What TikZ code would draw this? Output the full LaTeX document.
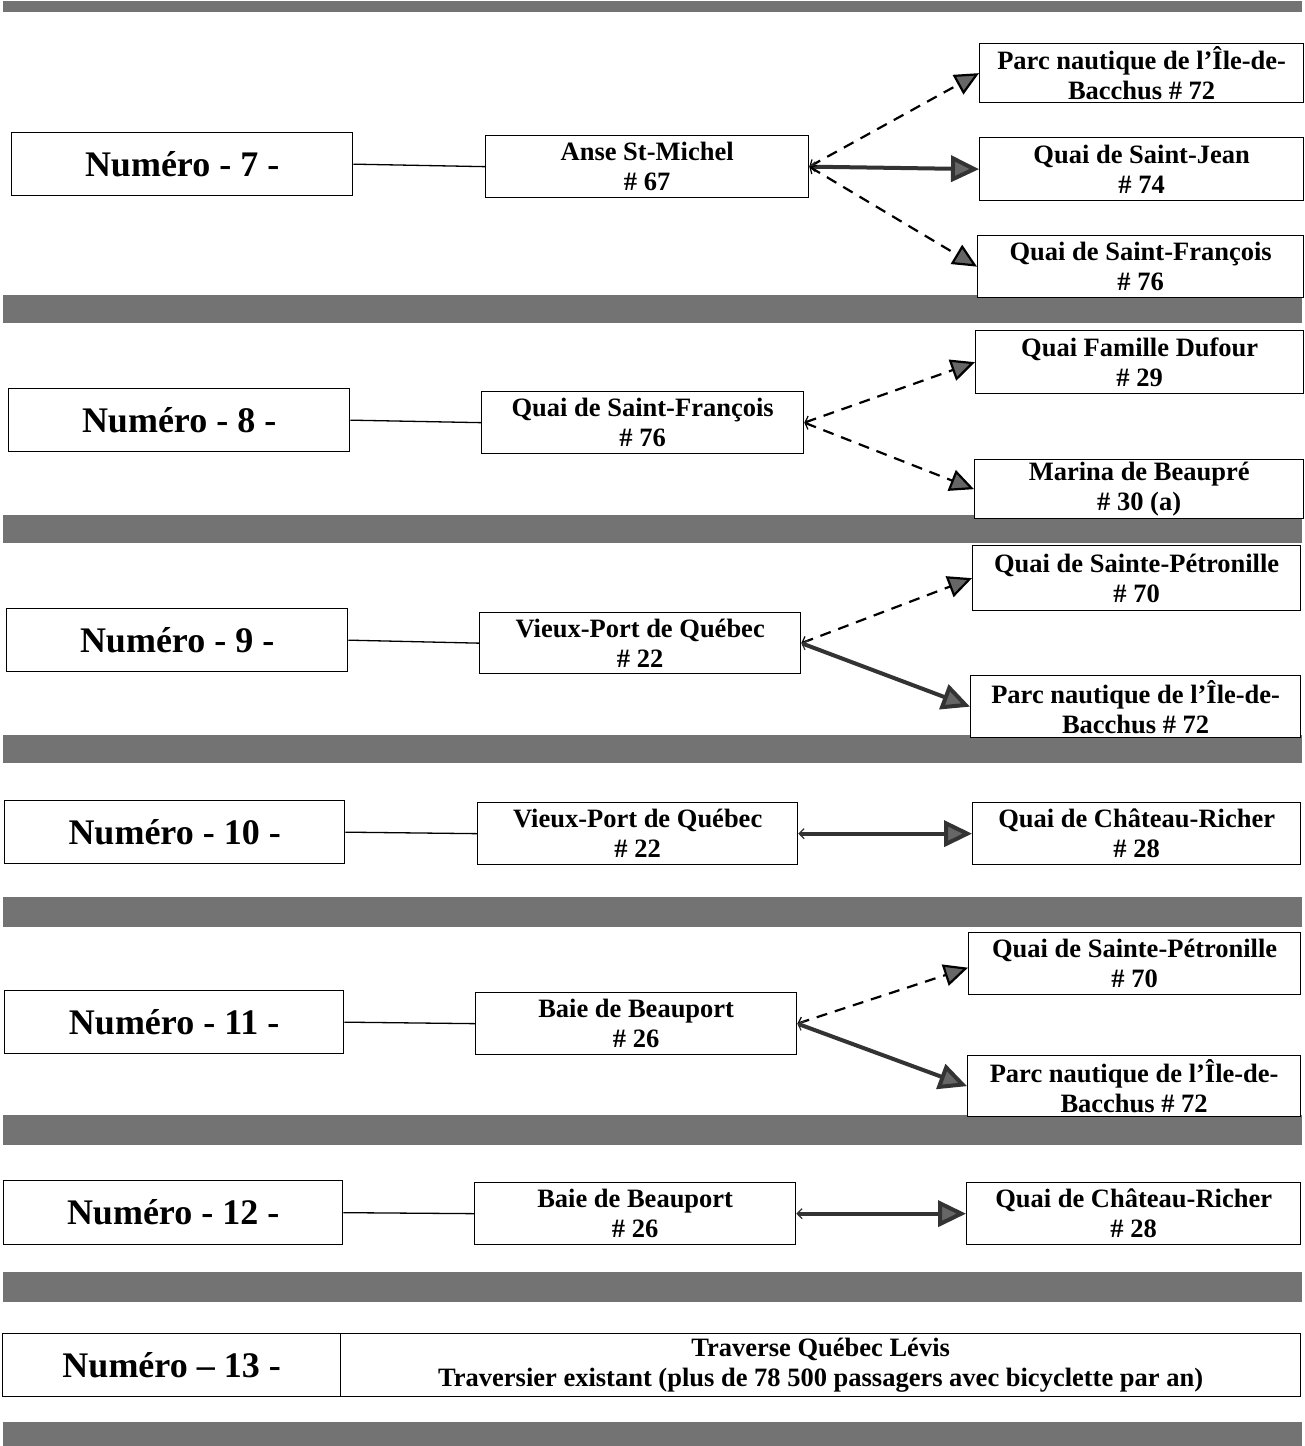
\documentclass[tikz,border=0pt]{standalone}
\usepackage{fontspec}
\setmainfont{Liberation Serif}
\usetikzlibrary{arrows.meta}
\begin{document}
\begin{tikzpicture}[x=1pt,y=-1pt,
  band/.style={fill=black!55,draw=none},
  numbox/.style={draw=black,line width=1.3pt,fill=white,anchor=north west,inner sep=0pt,
    align=center,font=\fontsize{36}{40}\selectfont\bfseries},
  stopbox/.style={draw=black,line width=1.3pt,fill=white,anchor=north west,inner sep=0pt,
    align=center,font=\fontsize{26.5}{30}\selectfont\bfseries},
  link/.style={line width=1.3pt},
  mainroute/.style={line width=4pt,draw=black!80,
    {Straight Barb[length=5pt,width=10pt,line width=1.2pt]}-{Triangle[length=28pt,width=26pt,fill=black!60]}},
  altroute/.style={line width=2.2pt,dash pattern=on 11pt off 8pt,
    {Straight Barb[length=5pt,width=10pt,line width=1.2pt]}-{Triangle[length=24pt,width=22pt,fill=black!60]}},
]
\useasboundingbox (0,0) rectangle (1305,1446);

% separating bands
\foreach \ya/\yb in {1/12,295/323,515/543,735/763,897/927,1115/1145,1272/1302,1422/1446}
  \fill[band] (3,\ya) rectangle (1302,\yb);

% route 7
\node[numbox,minimum width=341,minimum height=63] (n7) at (11,132) {Numéro - 7 -};
\node[stopbox,minimum width=323,minimum height=62] (d7) at (485,135) {Anse St-Michel\\\# 67};
\node[stopbox,minimum width=324,minimum height=59] (a7a) at (979,43) {Parc nautique de l’Île-de-\\Bacchus \# 72};
\node[stopbox,minimum width=324,minimum height=63] (a7b) at (979,137) {Quai de Saint-Jean\\\# 74};
\node[stopbox,minimum width=326,minimum height=62] (a7c) at (977,235) {Quai de Saint-François\\\# 76};
\draw[link] (n7.east) -- (d7.west);
\draw[altroute] (d7.east) -- (a7a.west);
\draw[mainroute] (d7.east) -- (a7b.west);
\draw[altroute] (d7.east) -- (a7c.west);

% route 8
\node[numbox,minimum width=341,minimum height=63] (n8) at (8,388) {Numéro - 8 -};
\node[stopbox,minimum width=322,minimum height=62] (d8) at (481,391) {Quai de Saint-François\\\# 76};
\node[stopbox,minimum width=328,minimum height=63] (a8a) at (975,330) {Quai Famille Dufour\\\# 29};
\node[stopbox,minimum width=329,minimum height=59] (a8b) at (974,459) {Marina de Beaupré\\\# 30 (a)};
\draw[link] (n8.east) -- (d8.west);
\draw[altroute] (d8.east) -- (a8a.west);
\draw[altroute] (d8.east) -- (a8b.west);

% route 9
\node[numbox,minimum width=341,minimum height=63] (n9) at (6,608) {Numéro - 9 -};
\node[stopbox,minimum width=321,minimum height=61] (d9) at (479,612) {Vieux-Port de Québec\\\# 22};
\node[stopbox,minimum width=328,minimum height=65] (a9a) at (972,545) {Quai de Sainte-Pétronille\\\# 70};
\node[stopbox,minimum width=330,minimum height=62] (a9b) at (970,675) {Parc nautique de l’Île-de-\\Bacchus \# 72};
\draw[link] (n9.east) -- (d9.west);
\draw[altroute] (d9.east) -- (a9a.west);
\draw[mainroute] (d9.east) -- (a9b.west);

% route 10
\node[numbox,minimum width=340,minimum height=63] (n10) at (4,800) {Numéro - 10 -};
\node[stopbox,minimum width=320,minimum height=62] (d10) at (477,802) {Vieux-Port de Québec\\\# 22};
\node[stopbox,minimum width=328,minimum height=62] (a10) at (972,802) {Quai de Château-Richer\\\# 28};
\draw[link] (n10.east) -- (d10.west);
\draw[mainroute] (d10.east) -- (a10.west);

% route 11
\node[numbox,minimum width=339,minimum height=63] (n11) at (4,990) {Numéro - 11 -};
\node[stopbox,minimum width=321,minimum height=62] (d11) at (475,992) {Baie de Beauport\\\# 26};
\node[stopbox,minimum width=332,minimum height=62] (a11a) at (968,932) {Quai de Sainte-Pétronille\\\# 70};
\node[stopbox,minimum width=333,minimum height=61] (a11b) at (967,1055) {Parc nautique de l’Île-de-\\Bacchus \# 72};
\draw[link] (n11.east) -- (d11.west);
\draw[altroute] (d11.east) -- ([yshift=-4pt]a11a.west);
\draw[mainroute] (d11.east) -- (a11b.west);

% route 12
\node[numbox,minimum width=339,minimum height=64] (n12) at (3,1180) {Numéro - 12 -};
\node[stopbox,minimum width=321,minimum height=62] (d12) at (474,1182) {Baie de Beauport\\\# 26};
\node[stopbox,minimum width=334,minimum height=62] (a12) at (966,1182) {Quai de Château-Richer\\\# 28};
\draw[link] (n12.east) -- (d12.west);
\draw[mainroute] (d12.east) -- (a12.west);

% route 13
\node[numbox,minimum width=338,minimum height=63] (n13) at (2,1333) {Numéro – 13 -};
\node[stopbox,minimum width=960,minimum height=63] (d13) at (340,1333)
  {Traverse Québec Lévis\\Traversier existant (plus de 78 500 passagers avec bicyclette par an)};
\end{tikzpicture}
\end{document}
